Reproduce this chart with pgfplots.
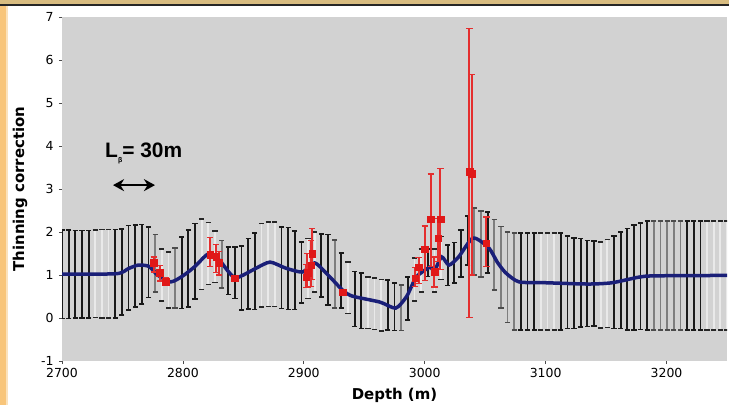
\documentclass[border=0pt]{standalone}
\usepackage{pgfplots}
\pgfplotsset{compat=1.18}
\usepackage{pgfplotstable}
\usepackage{fontspec}
\setmainfont{DejaVu Sans}
\newfontfamily\annotfont{Liberation Sans}
\usetikzlibrary{arrows.meta}
\definecolor{plotbg}{HTML}{D2D2D2}
\definecolor{frameorange}{HTML}{F8C57A}
\definecolor{frametan}{HTML}{D8BC80}
\definecolor{navyline}{HTML}{1A1F78}
\definecolor{redpt}{HTML}{E01818}
\definecolor{redbar}{HTML}{E42E2E}
\definecolor{lightbar}{HTML}{E9E9E9}
\definecolor{graybar}{HTML}{7E7E7E}

\pgfplotstableread{
x y e
2700 1.02 1.03
2705.5 1.02 1.03
2711 1.02 1.02
2716.5 1.02 1.02
2722 1.02 1.02
2744 1.03 1.03
2749.5 1.07 1.0
2755 1.17 0.98
2760.5 1.21 0.95
2766 1.25 0.92
2771.5 1.3 0.82
2799 1.05 0.83
2804.5 1.15 0.9
2810 1.32 0.88
2837.5 1.1 0.55
2843 1.05 0.6
2848.5 0.93 0.74
2854 1.03 0.82
2859.5 1.09 0.89
2881.5 1.17 0.95
2887 1.15 0.95
2892.5 1.11 0.91
2898 1.06 0.71
2914.5 1.22 0.73
2920 1.12 0.82
2931 0.87 0.64
2942 0.44 0.64
2947.5 0.4 0.65
2969.5 0.3 0.58
2975 0.26 0.55
2986 0.45 0.5
3002.5 1.28 0.32
3019 1.23 0.47
3024.5 1.28 0.47
3030 1.5 0.55
3035.5 1.8 0.57
3052 1.76 0.71
3079.5 0.85 1.13
3085 0.85 1.13
3090.5 0.85 1.13
3112.5 0.85 1.13
3118 0.83 1.08
3123.5 0.81 1.05
3129 0.82 1.03
3134.5 0.8 1.0
3140 0.8 0.99
3156.5 0.83 1.08
3162 0.88 1.12
3167.5 0.9 1.18
3173 0.94 1.22
3178.5 0.97 1.24
3184 0.99 1.27
3217 0.99 1.27
3222.5 0.99 1.27
3228 0.99 1.27
}\darkbars

\pgfplotstableread{
x y e
2777 1.27 0.67
2793.5 0.93 0.7
2832 1.25 0.55
2925.5 1.02 0.79
2980.5 0.24 0.53
3041 1.78 0.78
3046.5 1.72 0.77
3057.5 1.47 0.82
3063 1.18 0.95
3068.5 0.95 1.05
3074 0.85 1.13
3189.5 0.99 1.27
3195 0.99 1.27
3200.5 0.99 1.27
3206 0.99 1.27
3211.5 0.99 1.27
}\graybars

\pgfplotstableread{
x y e
2727.5 1.03 1.02
2733 1.03 1.03
2738.5 1.03 1.03
2782.5 1.0 0.6
2788 0.88 0.65
2815.5 1.48 0.82
2821 1.5 0.72
2826.5 1.42 0.6
2865 1.23 0.97
2870.5 1.25 0.98
2876 1.25 0.98
2903.5 1.15 0.7
2909 1.3 0.7
2936.5 0.7 0.6
2953 0.35 0.6
2958.5 0.33 0.6
2964 0.3 0.6
2991.5 0.9 0.5
2997 1.1 0.5
3008 1.1 0.5
3013.5 1.4 0.5
3096 0.85 1.13
3101.5 0.85 1.13
3107 0.85 1.13
3145.5 0.77 1.0
3151 0.8 1.02
3233.5 0.99 1.27
3239 0.99 1.27
3244.5 0.99 1.27
3250 0.99 1.27
}\lightbars

\pgfplotstableread{
x y
2700 1.02
2745 1.03
2755 1.15
2763 1.23
2772 1.2
2779 1.0
2790 0.84
2800 0.98
2810 1.2
2821 1.49
2830 1.35
2837 1.1
2843 0.93
2850 1.0
2860 1.15
2872 1.30
2885 1.16
2899 1.07
2909 1.28
2920 1.0
2932 0.65
2940 0.51
2963 0.37
2976 0.23
2985 0.5
2993 0.95
3004 1.18
3008 1.1
3014 1.42
3020 1.23
3028 1.42
3040 1.86
3053 1.63
3060 1.3
3067 1.05
3078 0.84
3100 0.82
3135 0.79
3155 0.82
3177 0.95
3190 0.98
3250 0.99
}\meanline

\pgfplotstableread{
x y ep em
2776 1.28 0.14 0.21
2781 1.05 0.18 0.19
2786 0.84 0.11 0.07
2822.6 1.47 0.41 0.27
2827.6 1.43 0.27 0.38
2830 1.28 0.27 0.28
2843 0.93 0.05 0.05
2902 0.95 0.30 0.25
2903 1.05 0.45 0.35
2906 1.23 0.57 0.50
2907 1.50 0.59 0.60
2932 0.60 0.05 0.05
2992 0.93 0.25 0.20
2995 1.18 0.22 0.37
3000 1.60 0.54 0.72
3005 2.30 1.05 1.10
3008 1.07 0.35 0.35
3011 1.86 0.45 0.55
3013 2.30 1.17 1.18
3037 3.40 3.34 3.38
3039 3.35 2.32 2.35
3051 1.74 0.61 0.55
}\redpts

\begin{document}
\begin{tikzpicture}
\useasboundingbox (0,0) rectangle (729bp,405bp);
\fill[white] (0,0) rectangle (729bp,405bp);
\fill[frameorange] (0,0) rectangle (6bp,405bp);
\fill[frameorange!50!white] (6bp,0) rectangle (8bp,405bp);
\fill[frametan] (0,401bp) rectangle (729bp,405bp);
\fill[black!85] (0,399bp) rectangle (729bp,401bp);
\begin{axis}[
  at={(62bp,44bp)}, anchor=south west,
  width=665bp, height=344bp, scale only axis,
  xmin=2700, xmax=3250, ymin=-1, ymax=7,
  axis background/.style={fill=plotbg},
  axis line style={draw=none},
  xtick={2700,2800,...,3200},
  ytick={-1,0,...,7},
  tick pos=left,
  tick align=outside,
  major tick length=3bp,
  tick style={black!70, line width=0.7bp},
  /pgf/number format/assume math mode=true,
  /pgf/number format/set thousands separator={},
  ticklabel style={font=\fontsize{12.5}{14}\selectfont},
  yticklabel style={xshift=-2bp},
  xticklabel style={yshift=-1bp},
  xlabel={Depth (m)},
  ylabel={Thinning correction},
  label style={font=\fontsize{15}{17}\selectfont\bfseries},
  xlabel style={at={(axis description cs:0.5,-0.099)}, anchor=center},
  ylabel style={at={(axis description cs:-0.063,0.5)}, anchor=center},
]
% light bars
\addplot[draw=none, mark=none,
  error bars/.cd, y dir=both, y explicit,
  error bar style={draw=lightbar, line width=1.8bp},
  error mark options={draw=black!85, line width=1.5bp, mark size=2.6bp, rotate=90}]
  table[x=x, y=y, y error=e] {\lightbars};
% gray bars
\addplot[draw=none, mark=none,
  error bars/.cd, y dir=both, y explicit,
  error bar style={draw=graybar, line width=1.8bp},
  error mark options={draw=graybar!60!black, line width=1.5bp, mark size=2.6bp, rotate=90}]
  table[x=x, y=y, y error=e] {\graybars};
% dark bars
\addplot[draw=none, mark=none,
  error bars/.cd, y dir=both, y explicit,
  error bar style={draw=black!90, line width=1.8bp},
  error mark options={draw=black!90, line width=1.5bp, mark size=2.6bp, rotate=90}]
  table[x=x, y=y, y error=e] {\darkbars};
% mean line
\addplot[navyline, line width=3.5bp, smooth, tension=0.4, mark=none]
  table[x=x, y=y] {\meanline};
% red points
\addplot[only marks, mark=square*, mark size=3.3bp, color=redbar,
  mark options={fill=redpt, draw=redpt},
  error bars/.cd, y dir=both, y explicit,
  error bar style={color=redbar, line width=2bp},
  error mark options={color=redbar, line width=1.2bp, mark size=3.2bp, rotate=90}]
  table[x=x, y=y, y error plus=ep, y error minus=em] {\redpts};
% annotation
\node[anchor=base west, inner sep=0pt, font=\annotfont\bfseries\fontsize{21}{24}\selectfont]
  at (axis cs:2735.6,3.74) {L\raisebox{-0.25em}{\fontsize{7}{8}\selectfont β}= 30m};
\draw[line width=2.6bp, black,
  {Stealth[length=11bp,width=12bp]}-{Stealth[length=11bp,width=12bp]}]
  (axis cs:2742.2,3.09) -- (axis cs:2776.9,3.09);
\end{axis}
\end{tikzpicture}
\end{document}
